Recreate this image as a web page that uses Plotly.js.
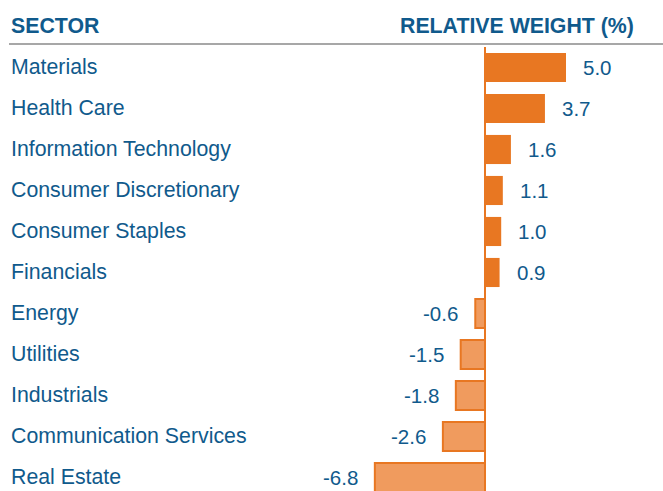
<!DOCTYPE html>
<html>
<head>
<meta charset="utf-8">
<script src="https://cdn.plot.ly/plotly-3.0.1.min.js"></script>
<style>html,body{margin:0;padding:0;background:#fff;}#chart{width:663px;height:491px;}</style>
</head>
<body>
<div id="chart"></div>
<script>
const sectors = ["Materials","Health Care","Information Technology","Consumer Discretionary","Consumer Staples","Financials","Energy","Utilities","Industrials","Communication Services","Real Estate"];
const weights = [5.0, 3.7, 1.6, 1.1, 1.0, 0.9, -0.6, -1.5, -1.8, -2.6, -6.8];
const headerLeft = "SECTOR";
const headerRight = "RELATIVE WEIGHT (%)";

const W = 663, H = 491;
const zeroPx = 485, pxPerUnit = 16.2;
const textColor = "#105a8c";
const orange = "#e87722";
const lightOrange = "#f09b5e";
const fontFam = "Liberation Sans, Arial, sans-serif";

const fillColors = weights.map(v => v >= 0 ? orange : lightOrange);
const lineWidths = weights.map(v => v >= 0 ? 0 : 2);

const trace = {
  type: "bar",
  orientation: "h",
  y: sectors,
  x: weights,
  marker: {color: fillColors, line: {color: orange, width: lineWidths}},
  hoverinfo: "none"
};

const annotations = [];
sectors.forEach((s, i) => {
  annotations.push({
    xref: "paper", yref: "y", x: 9/W, y: s, xanchor: "left", yanchor: "middle",
    text: s, showarrow: false, yshift: 0.5,
    font: {family: fontFam, size: 21.3, color: textColor}
  });
  const v = weights[i];
  annotations.push({
    xref: "x", yref: "y", x: v, y: s,
    xanchor: v >= 0 ? "left" : "right", yanchor: "middle",
    xshift: v >= 0 ? 15 : -15, yshift: 0,
    text: v.toFixed(1), showarrow: false,
    font: {family: fontFam, size: 20.5, color: textColor}
  });
});
const topMargin = 47;
const plotH = H - topMargin;
annotations.push({
  xref: "paper", yref: "paper", x: 9/W, y: (H - 26)/plotH, xanchor: "left", yanchor: "middle",
  text: "<b>" + headerLeft + "</b>", showarrow: false,
  font: {family: fontFam, size: 21.3, color: textColor}
});
annotations.push({
  xref: "paper", yref: "paper", x: 636/W, y: (H - 26)/plotH, xanchor: "right", yanchor: "middle",
  text: "<b>" + headerRight + "</b>", showarrow: false,
  font: {family: fontFam, size: 21.3, color: textColor}
});

const layout = {
  width: W, height: H,
  margin: {l: 0, r: 0, t: topMargin, b: 0, pad: 0},
  paper_bgcolor: "#fff", plot_bgcolor: "#fff",
  showlegend: false,
  bargap: 0.29,
  xaxis: {
    range: [-zeroPx/pxPerUnit, (W - zeroPx)/pxPerUnit],
    showgrid: false, showticklabels: false, ticks: "",
    zeroline: true, zerolinecolor: orange, zerolinewidth: 2, fixedrange: true
  },
  yaxis: {
    type: "category", range: [10.33, -0.5],
    showgrid: false, showticklabels: false, ticks: "", zeroline: false, fixedrange: true
  },
  shapes: [{
    type: "line", xref: "paper", yref: "paper",
    x0: 9/W, x1: 1, y0: (H - 44)/plotH, y1: (H - 44)/plotH,
    line: {color: "#8a8a8a", width: 1.5}
  }],
  annotations: annotations
};

Plotly.newPlot("chart", [trace], layout, {displayModeBar: false, staticPlot: true});
</script>
</body>
</html>
